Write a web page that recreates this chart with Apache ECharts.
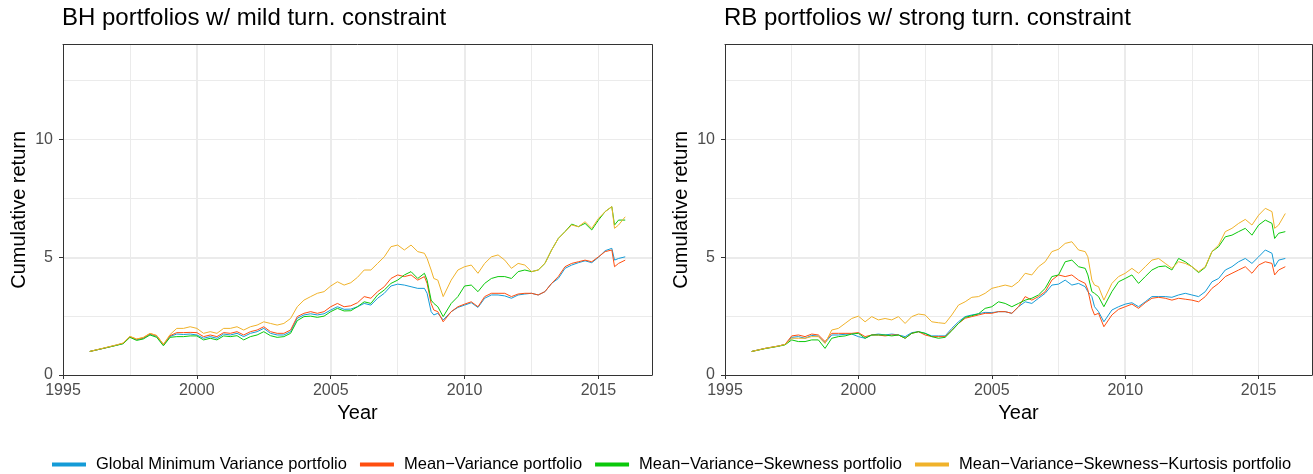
<!DOCTYPE html>
<html>
<head>
<meta charset="utf-8">
<script src="https://cdn.jsdelivr.net/npm/echarts@6/dist/echarts.min.js"></script>
<style>
  html, body { margin: 0; padding: 0; background: #fff; }
  #chart { width: 1313px; height: 474px; }
</style>
</head>
<body>
<div id="chart"></div>
<script>
// sampling dates (years), shared by both panels
var years = [1996, 1996.5, 1997, 1997.25, 1997.5, 1997.75, 1998, 1998.25, 1998.5, 1998.75,
    1999, 1999.25, 1999.5, 1999.75, 2000, 2000.25, 2000.5, 2000.75, 2001, 2001.25,
    2001.5, 2001.75, 2002, 2002.25, 2002.5, 2002.75, 2003, 2003.25, 2003.5, 2003.75,
    2004, 2004.25, 2004.5, 2004.75, 2005, 2005.25, 2005.5, 2005.75, 2006, 2006.25,
    2006.5, 2006.75, 2007, 2007.25, 2007.5, 2007.75, 2008, 2008.25, 2008.5, 2008.6,
    2008.75, 2008.85, 2009, 2009.2, 2009.5, 2009.75, 2010, 2010.25, 2010.5, 2010.75,
    2011, 2011.25, 2011.5, 2011.75, 2012, 2012.25, 2012.5, 2012.75, 2013, 2013.25,
    2013.5, 2013.75, 2014, 2014.25, 2014.5, 2014.75, 2015, 2015.25, 2015.5, 2015.6,
    2015.75, 2016];

// BH portfolios w/ mild turn. constraint
var bhGmv = [1.0, 1.13, 1.27, 1.34, 1.62, 1.5, 1.56, 1.73, 1.64, 1.27,
    1.64, 1.74, 1.72, 1.74, 1.7, 1.56, 1.63, 1.56, 1.74, 1.7,
    1.77, 1.63, 1.77, 1.84, 1.98, 1.77, 1.7, 1.7, 1.84, 2.41,
    2.55, 2.6, 2.55, 2.6, 2.76, 2.9, 2.79, 2.8, 2.9, 3.04,
    2.97, 3.26, 3.47, 3.78, 3.86, 3.82, 3.75, 3.68, 3.68, 3.47,
    2.69, 2.55, 2.62, 2.34, 2.69, 2.87, 2.97, 3.07, 2.87, 3.26,
    3.4, 3.4, 3.36, 3.26, 3.4, 3.44, 3.47, 3.4, 3.54, 3.89,
    4.1, 4.53, 4.67, 4.77, 4.85, 4.77, 5.0, 5.28, 5.38, 4.88,
    4.95, 5.02];
var bhMv = [1.0, 1.13, 1.27, 1.35, 1.63, 1.52, 1.58, 1.76, 1.67, 1.3,
    1.67, 1.8, 1.8, 1.81, 1.8, 1.63, 1.7, 1.63, 1.8, 1.77,
    1.84, 1.7, 1.84, 1.91, 2.05, 1.84, 1.77, 1.77, 1.91, 2.48,
    2.62, 2.69, 2.62, 2.69, 2.9, 3.04, 2.9, 2.94, 3.07, 3.33,
    3.26, 3.54, 3.75, 4.1, 4.25, 4.18, 4.25, 4.03, 4.18, 3.89,
    3.04, 2.76, 2.69, 2.26, 2.69, 2.9, 3.01, 3.11, 2.9, 3.33,
    3.47, 3.47, 3.47, 3.33, 3.44, 3.47, 3.47, 3.4, 3.54, 3.89,
    4.18, 4.6, 4.74, 4.81, 4.88, 4.81, 5.02, 5.24, 5.31, 4.6,
    4.74, 4.88];
var bhMvs = [1.0, 1.13, 1.26, 1.33, 1.6, 1.47, 1.53, 1.7, 1.6, 1.24,
    1.6, 1.63, 1.63, 1.66, 1.66, 1.49, 1.56, 1.49, 1.66, 1.63,
    1.67, 1.49, 1.63, 1.7, 1.84, 1.67, 1.6, 1.63, 1.77, 2.31,
    2.48, 2.5, 2.45, 2.5, 2.69, 2.83, 2.72, 2.73, 2.9, 3.11,
    3.04, 3.4, 3.61, 3.89, 4.03, 4.25, 4.39, 4.1, 4.32, 4.03,
    3.18, 3.04, 2.9, 2.48, 3.04, 3.33, 3.78, 3.82, 3.54, 3.89,
    4.1, 4.18, 4.18, 4.1, 4.39, 4.46, 4.39, 4.46, 4.74, 5.31,
    5.8, 6.09, 6.41, 6.3, 6.44, 6.16, 6.58, 6.94, 7.15, 6.37,
    6.58, 6.58];
var bhMvsk = [1.0, 1.14, 1.28, 1.36, 1.64, 1.53, 1.6, 1.77, 1.68, 1.3,
    1.72, 1.98, 1.98, 2.05, 1.98, 1.77, 1.84, 1.77, 1.98, 1.98,
    2.05, 1.91, 2.05, 2.12, 2.26, 2.19, 2.12, 2.19, 2.4, 2.9,
    3.18, 3.33, 3.47, 3.54, 3.78, 3.96, 3.82, 3.92, 4.15, 4.46,
    4.46, 4.74, 5.02, 5.45, 5.52, 5.31, 5.52, 5.24, 5.17, 4.95,
    4.46, 4.1, 4.03, 3.33, 4.03, 4.46, 4.6, 4.67, 4.32, 4.74,
    5.02, 5.1, 4.88, 4.53, 4.74, 4.67, 4.39, 4.46, 4.74, 5.31,
    5.8, 6.09, 6.37, 6.3, 6.51, 6.23, 6.65, 6.94, 7.15, 6.23,
    6.37, 6.72];

// RB portfolios w/ strong turn. constraint
var rbGmv = [1.0, 1.13, 1.23, 1.3, 1.6, 1.63, 1.56, 1.68, 1.65, 1.37,
    1.7, 1.7, 1.73, 1.74, 1.63, 1.56, 1.7, 1.74, 1.7, 1.74,
    1.7, 1.63, 1.8, 1.84, 1.77, 1.66, 1.66, 1.66, 1.98, 2.26,
    2.48, 2.55, 2.6, 2.66, 2.65, 2.69, 2.69, 2.62, 2.9, 3.11,
    3.04, 3.26, 3.47, 3.82, 3.86, 4.03, 3.82, 3.89, 3.75, 3.54,
    3.33, 2.9, 2.69, 2.26, 2.76, 2.9, 3.01, 3.07, 2.9, 3.11,
    3.33, 3.33, 3.33, 3.3, 3.4, 3.47, 3.4, 3.33, 3.54, 3.96,
    4.1, 4.46, 4.6, 4.81, 4.95, 4.74, 5.02, 5.31, 5.17, 4.6,
    4.88, 4.95];
var rbMv = [1.0, 1.13, 1.23, 1.3, 1.66, 1.7, 1.63, 1.74, 1.7, 1.42,
    1.77, 1.77, 1.77, 1.77, 1.8, 1.63, 1.7, 1.7, 1.66, 1.7,
    1.7, 1.56, 1.77, 1.84, 1.7, 1.63, 1.63, 1.63, 1.91, 2.19,
    2.41, 2.48, 2.55, 2.62, 2.62, 2.69, 2.69, 2.62, 2.9, 3.33,
    3.18, 3.33, 3.54, 4.03, 4.25, 4.18, 4.25, 4.03, 3.89, 3.61,
    2.83, 2.55, 2.62, 2.05, 2.55, 2.79, 2.9, 3.01, 2.83, 3.07,
    3.26, 3.3, 3.26, 3.18, 3.26, 3.22, 3.18, 3.11, 3.33, 3.68,
    3.89, 4.18, 4.32, 4.46, 4.6, 4.32, 4.67, 4.81, 4.74, 4.25,
    4.46, 4.6];
var rbMvs = [1.0, 1.12, 1.22, 1.28, 1.49, 1.42, 1.42, 1.49, 1.49, 1.13,
    1.56, 1.63, 1.66, 1.74, 1.77, 1.56, 1.7, 1.7, 1.7, 1.66,
    1.7, 1.56, 1.77, 1.84, 1.77, 1.63, 1.56, 1.6, 1.88, 2.19,
    2.45, 2.52, 2.6, 2.83, 2.9, 3.11, 3.04, 2.9, 3.04, 3.18,
    3.26, 3.4, 3.68, 4.18, 4.25, 4.81, 4.88, 4.6, 4.53, 4.25,
    3.54, 3.47, 3.33, 2.9, 3.54, 3.96, 4.1, 4.25, 3.89, 4.18,
    4.46, 4.6, 4.63, 4.46, 4.95, 4.81, 4.6, 4.35, 4.57, 5.24,
    5.45, 5.87, 5.94, 6.09, 6.23, 5.94, 6.37, 6.58, 6.44, 5.8,
    6.02, 6.09];
var rbMvsk = [1.0, 1.13, 1.23, 1.3, 1.56, 1.56, 1.56, 1.63, 1.63, 1.34,
    1.91, 1.98, 2.19, 2.4, 2.5, 2.26, 2.48, 2.34, 2.4, 2.34,
    2.48, 2.19, 2.48, 2.59, 2.55, 2.26, 2.22, 2.19, 2.55, 2.97,
    3.11, 3.3, 3.33, 3.47, 3.68, 3.75, 3.82, 3.75, 3.96, 4.32,
    4.25, 4.6, 4.81, 5.24, 5.34, 5.59, 5.66, 5.31, 5.24, 5.02,
    4.03, 3.82, 3.75, 3.18, 3.89, 4.18, 4.32, 4.53, 4.32, 4.6,
    4.88, 4.95, 4.74, 4.53, 4.81, 4.74, 4.6, 4.39, 4.6, 5.24,
    5.52, 6.09, 6.23, 6.44, 6.61, 6.37, 6.79, 7.08, 6.94, 6.23,
    6.37, 6.86];

var names = ['Global Minimum Variance portfolio', 'Mean\u2212Variance portfolio',
    'Mean\u2212Variance\u2212Skewness portfolio', 'Mean\u2212Variance\u2212Skewness\u2212Kurtosis portfolio'];
var colors = ['#149bd7', '#ff4e0f', '#0ac80a', '#f0b22a'];
var titles = ['BH portfolios w/ mild turn. constraint', 'RB portfolios w/ strong turn. constraint'];
var xTicks = [1995, 2000, 2005, 2010, 2015];
var yTicks = [0, 5, 10];

var panels = [[bhGmv, bhMv, bhMvs, bhMvsk], [rbGmv, rbMv, rbMvs, rbMvsk]];
var font = '"Liberation Sans", Arial, sans-serif';
var gridLefts = [63, 725];
var gridWidths = [589, 587];

var myChart = echarts.init(document.getElementById('chart'), null, {renderer: 'canvas'});

var grid = [], xAxis = [], yAxis = [], series = [], title = [];

var $each = function (arr, fn) { for (var i = 0; i < arr.length; i++) fn(i, arr[i]); };
var plain = function (v) { return String(v); };

$each(panels, function (p, list) {
    title.push({
        text: titles[p], left: gridLefts[p] - 1, top: 6, padding: 0,
        textStyle: {fontSize: 24, fontWeight: 'normal', color: '#000', fontFamily: font}
    });
    grid.push({left: gridLefts[p], top: 44.7, width: gridWidths[p], height: 330.3, containLabel: false});

    // major x axis: labels, ticks, bottom line
    xAxis.push({
        type: 'value', gridIndex: p, min: 1995, max: 2017, interval: 5,
        name: 'Year', nameLocation: 'middle', nameGap: 28,
        nameTextStyle: {fontSize: 20, color: '#000', fontFamily: font},
        axisLine: {show: true, onZero: false, lineStyle: {color: '#333', width: 1}},
        axisTick: {show: true, length: 4, customValues: xTicks, lineStyle: {color: '#333', width: 1}},
        axisLabel: {customValues: xTicks, formatter: plain, color: '#4d4d4d', fontSize: 16, margin: 8, fontFamily: font},
        splitLine: {show: true, showMinLine: false, showMaxLine: false, lineStyle: {color: '#ebebeb', width: 2}}
    });
    // minor x axis: minor grid + top border
    xAxis.push({
        type: 'value', gridIndex: p, min: 1995, max: 2017, interval: 2.5, position: 'top',
        axisLine: {show: true, onZero: false, lineStyle: {color: '#333', width: 1}},
        axisTick: {show: false}, axisLabel: {show: false},
        splitLine: {show: true, showMinLine: false, showMaxLine: false, lineStyle: {color: '#ebebeb', width: 1}}
    });
    yAxis.push({
        type: 'value', gridIndex: p, min: 0, max: 14.03, interval: 5,
        name: 'Cumulative return', nameLocation: 'middle', nameGap: 34,
        nameTextStyle: {fontSize: 20, color: '#000', fontFamily: font},
        axisLine: {show: true, onZero: false, lineStyle: {color: '#333', width: 1}},
        axisTick: {show: true, length: 4, customValues: yTicks, lineStyle: {color: '#333', width: 1}},
        axisLabel: {customValues: yTicks, formatter: plain, color: '#4d4d4d', fontSize: 16, margin: 10, fontFamily: font},
        splitLine: {show: true, showMinLine: false, showMaxLine: false, lineStyle: {color: '#ebebeb', width: 2}}
    });
    yAxis.push({
        type: 'value', gridIndex: p, min: 0, max: 14.03, interval: 2.5, position: 'right',
        axisLine: {show: true, onZero: false, lineStyle: {color: '#333', width: 1}},
        axisTick: {show: false}, axisLabel: {show: false},
        splitLine: {show: true, showMinLine: false, showMaxLine: false, lineStyle: {color: '#ebebeb', width: 1}}
    });

    $each(list, function (k, vals) {
        series.push({
            name: names[k], type: 'line', xAxisIndex: p * 2, yAxisIndex: p * 2,
            data: years.map(function (y, i) { return [y, vals[i]]; }),
            symbol: 'none', showSymbol: false,
            lineStyle: {width: 1, color: colors[k]},
            itemStyle: {color: colors[k]},
            emphasis: {disabled: true}
        });
    });
});

myChart.setOption({
    animation: false,
    title: title,
    grid: grid,
    xAxis: xAxis,
    yAxis: yAxis,
    legend: {
        data: names, left: 52, top: 456, padding: 0, icon: 'rect',
        itemWidth: 34, itemHeight: 4, itemGap: 13,
        textStyle: {fontSize: 16.5, color: '#000', fontFamily: font, padding: [0, 0, 0, 5]}
    },
    series: series
});
</script>
</body>
</html>
